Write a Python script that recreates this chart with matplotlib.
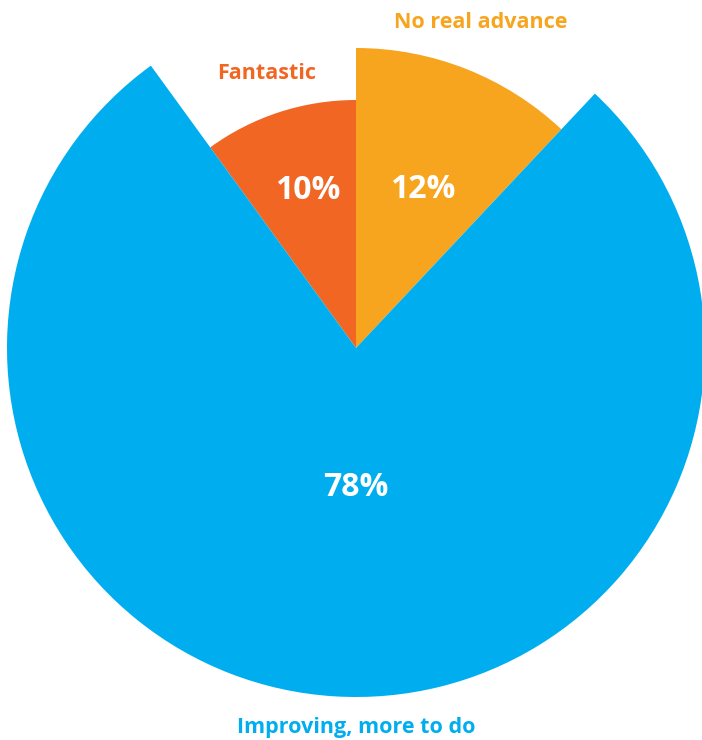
import numpy as np
import matplotlib.pyplot as plt
from matplotlib.patches import Wedge

# slice data, drawn counter-clockwise from the top
labels = ["No real advance", "Fantastic", "Improving, more to do"]
shares = [12, 10, 78]
pct_text = ["12%", "10%", "78%"]

# styling for each slice
colors = ["#F7A51F", "#F26624", "#00AEEF"]
radii = [300, 248, 349]
pct_pos = [(172, 67), (165, 107), (139, -90)]      # (r, angle deg)
name_pos = [(349, 69), (289, 108), (379, -90)]

W, H = 702, 740
cx, cy = 356, H - 348

fig = plt.figure(figsize=(W / 100, H / 100), dpi=100)
ax = fig.add_axes([0, 0, 1, 1])
ax.set_xlim(0, W)
ax.set_ylim(0, H)
ax.set_aspect("equal")
ax.axis("off")

plt.rcParams['font.family'] = ['Open Sans', 'DejaVu Sans']

# orange goes clockwise from 90, the rest continue counter-clockwise
start = 90 - shares[0] * 3.6
angles = []
a = start
for s in shares:
    angles.append((a, a + s * 3.6))
    a += s * 3.6

for (t1, t2), r, c in zip(angles, radii, colors):
    ax.add_patch(Wedge((cx, cy), r, t1, t2, facecolor=c, edgecolor="none"))

for txt, (r, ang) in zip(pct_text, pct_pos):
    x = cx + r * np.cos(np.radians(ang))
    y = cy + r * np.sin(np.radians(ang))
    ax.text(x, y, txt, color="white", fontsize=23, fontweight="bold",
            ha="center", va="center")

for name, (r, ang), c in zip(labels, name_pos, colors):
    x = cx + r * np.cos(np.radians(ang))
    y = cy + r * np.sin(np.radians(ang))
    ax.text(x, y, name, color=c, fontsize=15.5, fontweight="bold",
            ha="center", va="center")

fig.savefig("out.png", dpi=100)
